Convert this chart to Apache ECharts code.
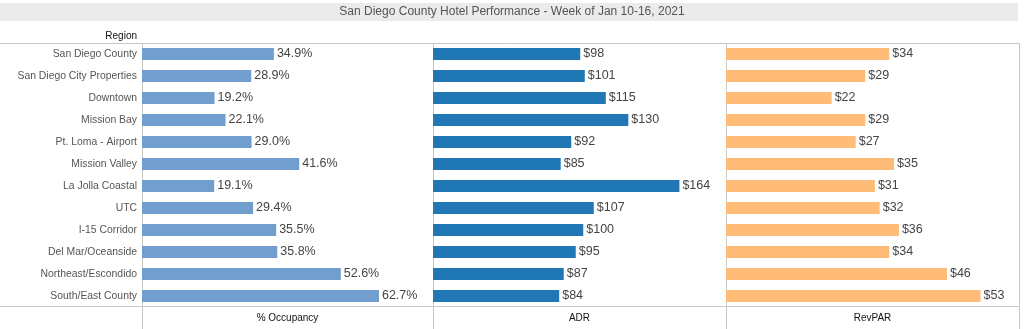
<!DOCTYPE html>
<html>
<head>
<meta charset="utf-8">
<script src="https://cdn.jsdelivr.net/npm/echarts@6/dist/echarts.min.js"></script>
<style>html,body{margin:0;padding:0;background:#fff;}#c{width:1024px;height:329px;}</style>
</head>
<body>
<div id="c"></div>
<script>
const titleText = 'San Diego County Hotel Performance - Week of Jan 10-16, 2021';
const regions = ['San Diego County','San Diego City Properties','Downtown','Mission Bay','Pt. Loma - Airport','Mission Valley','La Jolla Coastal','UTC','I-15 Corridor','Del Mar/Oceanside','Northeast/Escondido','South/East County'];
const occupancy = [34.9,28.9,19.2,22.1,29.0,41.6,19.1,29.4,35.5,35.8,52.6,62.7];
const adr = [98,101,115,130,92,85,164,107,100,95,87,84];
const revpar = [34,29,22,29,27,35,31,32,36,34,46,53];
const panelNames = ['% Occupancy','ADR','RevPAR'];

const FONT = 'Liberation Sans, Arial, sans-serif';
const panels = [
  {left:142, width:291, max:77, color:'#729ece', data:occupancy, fmt:v=>v.toFixed(1)+'%'},
  {left:433, width:293, max:195, color:'#1f77b4', data:adr, fmt:v=>'$'+v},
  {left:726, width:293, max:61, color:'#ffbb78', data:revpar, fmt:v=>'$'+v}
];
const TOP = 43, H = 264;
const lineColor = '#c8c8c8';

const chart = echarts.init(document.getElementById('c'));
const grids = [], xAxes = [], yAxes = [], series = [];
panels.forEach((p,i)=>{
  grids.push({left:p.left, width:p.width, top:TOP, height:H, containLabel:false});
  xAxes.push({type:'value', gridIndex:i, min:0, max:p.max, show:false, splitLine:{show:false}});
  yAxes.push({type:'category', gridIndex:i, data:regions, inverse:true,
    axisLine:{show:false}, axisTick:{show:false}, splitLine:{show:false},
    axisLabel:{show:i===0, color:'#555', fontSize:10.4, fontFamily:FONT, margin:5}});
  series.push({type:'bar', xAxisIndex:i, yAxisIndex:i, data:p.data, barWidth:12,
    itemStyle:{color:p.color}, silent:true, animation:false,
    label:{show:true, position:'right', distance:3, color:'#444', fontSize:12.5, fontFamily:FONT,
      formatter:(d)=>p.fmt(d.value)}});
});

const graphic = [
  {type:'rect', shape:{x:0,y:3,width:1018,height:18}, style:{fill:'#ebebeb'}, silent:true},
  {type:'text', x:512, y:12, style:{text:titleText, align:'center', verticalAlign:'middle', fill:'#555', fontSize:12, fontFamily:FONT}},
  {type:'text', x:137, y:36, style:{text:'Region', align:'right', verticalAlign:'middle', fill:'#111', fontSize:10, fontFamily:FONT}},
  {type:'line', shape:{x1:0,y1:43.5,x2:1019.5,y2:43.5}, style:{stroke:lineColor, lineWidth:1}},
  {type:'line', shape:{x1:0,y1:306.5,x2:1019.5,y2:306.5}, style:{stroke:lineColor, lineWidth:1}}
];
[142,433,726,1019].forEach(x=>{
  graphic.push({type:'line', shape:{x1:x+0.5,y1:43.5,x2:x+0.5,y2:329}, style:{stroke:lineColor, lineWidth:1}});
});
panels.forEach((p,i)=>{
  graphic.push({type:'text', x:p.left+p.width/2, y:318, style:{text:panelNames[i], align:'center', verticalAlign:'middle', fill:'#111', fontSize:10, fontFamily:FONT}});
});

chart.setOption({
  animation:false,
  grid:grids, xAxis:xAxes, yAxis:yAxes, series:series, graphic:graphic
});
</script>
</body>
</html>
